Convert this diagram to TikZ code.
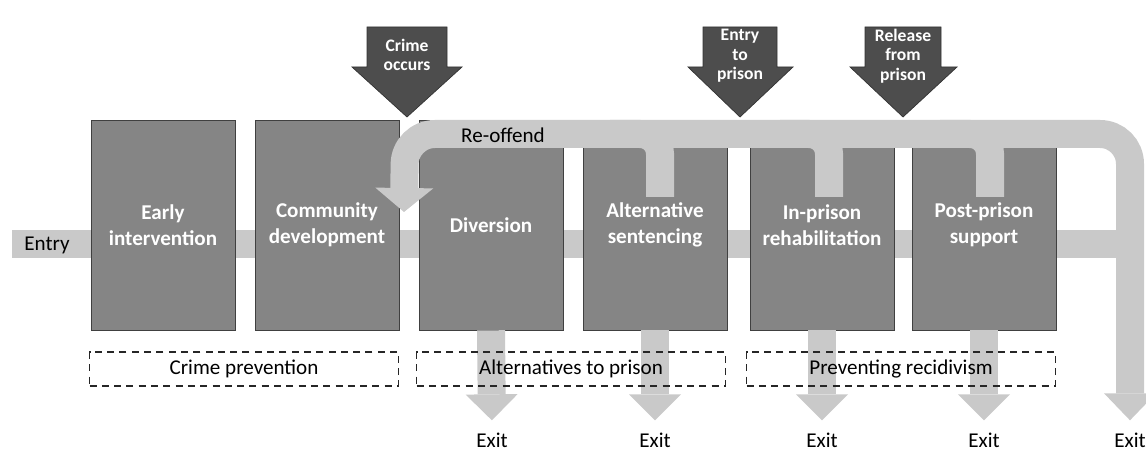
\documentclass[tikz,border=0pt]{standalone}
\usepackage{fontspec}
\setmainfont{Carlito}
\usetikzlibrary{arrows.meta}
\definecolor{boxgray}{HTML}{858585}
\definecolor{bandgray}{HTML}{C9C9C9}
\definecolor{eventgray}{HTML}{4D4D4D}

\tikzset{
	stage/.style={draw=black!75, fill=boxgray, text=white, align=center,
		font=\bfseries\fontsize{12}{15}\selectfont,
		minimum width=2.88cm, minimum height=4.2cm, inner sep=0pt},
	band/.style={draw=bandgray, line width=0.56cm},
	exitarrow/.style={band, -{Triangle[width=1.04cm, length=0.52cm, line width'=0pt]}, shorten >=0.24cm},
	group/.style={draw=black!85, dash pattern=on 4pt off 3pt, line width=0.8pt,
		minimum width=6.18cm, minimum height=0.68cm, inner sep=0pt,
		font=\fontsize{12}{14}\selectfont},
	label/.style={font=\fontsize{12}{14}\selectfont, inner sep=0pt},
	event/.style={fill=eventgray, draw=black!80},
	eventtext/.style={text=white, align=center, inner sep=0pt,
		font=\bfseries\fontsize{10}{11}\selectfont}
}

\begin{document}
\begin{tikzpicture}[x=0.02cm, y=-0.02cm]
	\useasboundingbox (0,0) rectangle (1146,455);
	% entry band behind the stages
	\draw [band] (12,244) -- (1128,244);
	\node [label] (entry) at (47,245) {Entry};

	% stages
	\node [stage] (early) at (163,225) {Early\\intervention};
	\node [stage] (comm) at (327,225) {Community\\development};
	\node [stage] (div) at (491,225) {Diversion};
	\node [stage] (alt) at (655,225) {Alternative\\sentencing};
	\node [stage] (inp) at (822,225) {In-prison\\rehabilitation};
	\node [stage] (post) at (984,225) {Post-prison\\support};

	% exit labels
	\node [label] (ex1) at (492,440) {Exit};
	\node [label] (ex2) at (655,440) {Exit};
	\node [label] (ex3) at (822,440) {Exit};
	\node [label] (ex4) at (984,440) {Exit};
	\node [label] (ex5) at (1130,440) {Exit};

	% re-offend loop
	\coordinate (back) at (404,212);
	\draw [band, rounded corners=0.6cm, {Triangle[width=1.16cm, length=0.48cm, line width'=0pt]}-{Triangle[width=1.04cm, length=0.54cm, line width'=0pt]}, shorten >=0.24cm]
		(back) -- (405,134) -- (1130,134) -- (ex5.north);
	\draw [band, rounded corners=0.4cm] (660,197) -- (660,134) -- (610,134);
	\draw [band, rounded corners=0.4cm] (829,197) -- (829,134) -- (780,134);
	\draw [band, rounded corners=0.4cm] (990,197) -- (990,134) -- (940,134);
	\node [label] (reoff) at (503,135) {Re-offend};

	% events
	\draw [event] (367,27) -- (447,27) -- (447,67) -- (462,67) -- (407,117) -- (352,67) -- (367,67) -- cycle;
	\node [eventtext] (crime) at (407,55) {Crime\\occurs};
	\draw [event] (703,27) -- (777,27) -- (777,67) -- (793,67) -- (740,117) -- (688,67) -- (703,67) -- cycle;
	\node [eventtext] (entprison) at (740,56) {Entry\\to\\prison};
	\draw [event] (865,27) -- (941,27) -- (941,67) -- (957,67) -- (903,117) -- (850,67) -- (865,67) -- cycle;
	\node [eventtext] (release) at (903,56) {Release\\from\\prison};

	% exits
	\draw [exitarrow] (div.south) -- (ex1.north);
	\draw [exitarrow] (alt.south) -- (ex2.north);
	\draw [exitarrow] (inp.south) -- (ex3.north);
	\draw [exitarrow] (post.south) -- (ex4.north);

	% groups
	\node [group] (prev) at (244,369) {Crime prevention};
	\node [group] (altp) at (571,369) {Alternatives to prison};
	\node [group] (recid) at (901,369) {Preventing recidivism};
\end{tikzpicture}
\end{document}
